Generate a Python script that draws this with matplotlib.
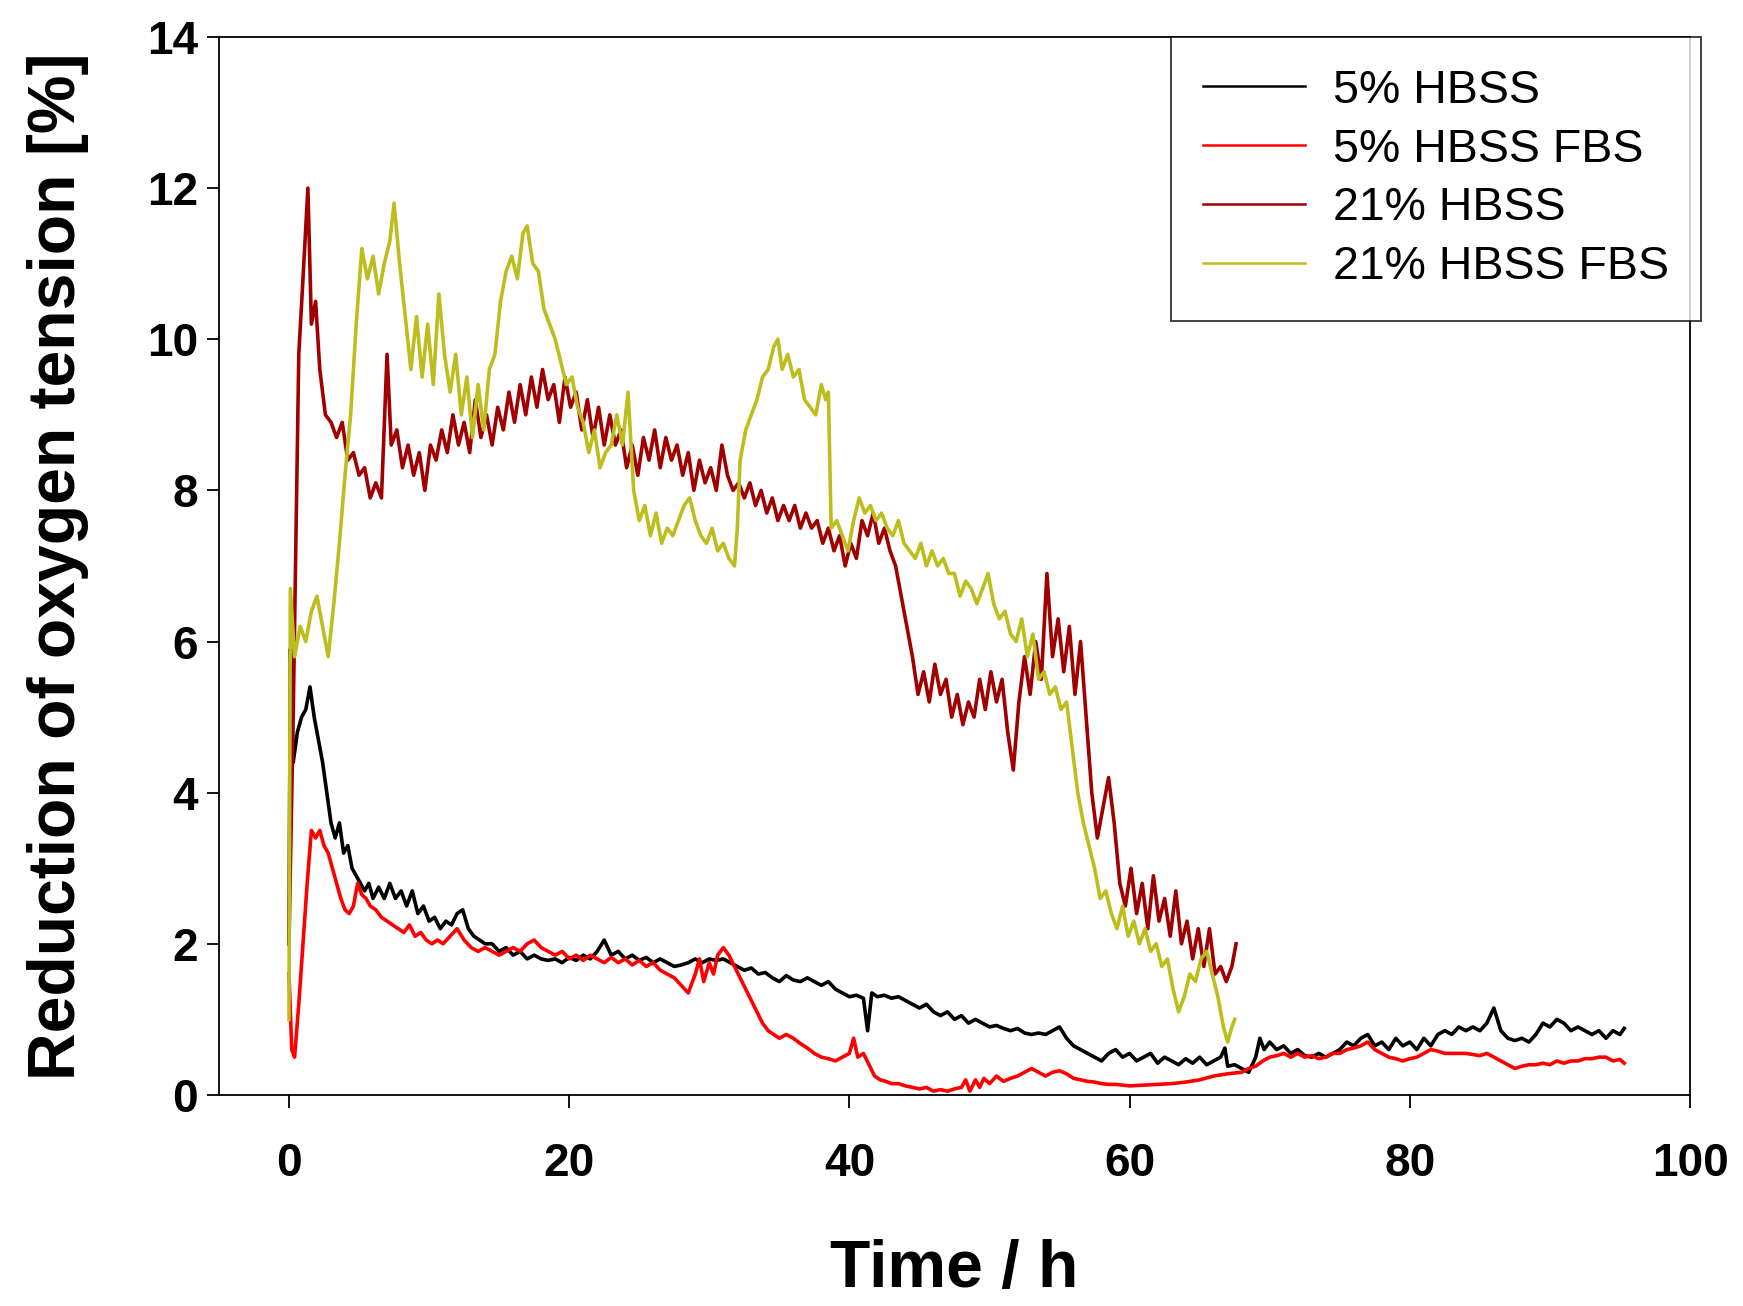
import matplotlib
matplotlib.use("Agg")
import matplotlib.pyplot as plt

# ---- data (time in h, reduction in %) ----
labels = ["5% HBSS", "5% HBSS FBS", "21% HBSS", "21% HBSS FBS"]
colors = ["#000000", "#FF0000", "#A00000", "#BDBD1E"]

t_hbss5 = [0.0, 0.1, 0.3, 0.6, 0.9, 1.2, 1.5, 1.8, 2.1, 2.4, 2.7, 3.0, 3.3, 3.6, 3.9, 4.2, 4.5, 4.8,
           5.1, 5.4, 5.7, 6.0, 6.4, 6.8, 7.2, 7.6, 8.0, 8.4, 8.8, 9.2, 9.6, 10.0, 10.4, 10.8, 11.2,
           11.6, 12.0, 12.4, 12.8, 13.2, 13.6, 14.0, 14.5, 15.0, 15.5, 16.0, 16.5, 17.0, 17.5, 18.0,
           18.5, 19.0, 19.5, 20.0, 20.5, 21.0, 21.5, 22.0, 22.5, 23.0, 23.5, 24.0, 24.5, 25.0, 25.5,
           26.0, 26.5, 27.0, 27.5, 28.0, 28.5, 29.0, 29.5, 30.0, 30.5, 31.0, 31.5, 32.0, 32.5, 33.0,
           33.5, 34.0, 34.5, 35.0, 35.5, 36.0, 36.5, 37.0, 37.5, 38.0, 38.5, 39.0, 39.5, 40.0, 40.5,
           41.0, 41.3, 41.6, 42.0, 42.5, 43.0, 43.5, 44.0, 44.5, 45.0, 45.5, 46.0, 46.5, 47.0, 47.5,
           48.0, 48.5, 49.0, 49.5, 50.0, 50.5, 51.0, 51.5, 52.0, 52.5, 53.0, 53.5, 54.0, 54.5, 55.0,
           55.5, 56.0, 56.5, 57.0, 57.5, 58.0, 58.5, 59.0, 59.5, 60.0, 60.5, 61.0, 61.5, 62.0, 62.5,
           63.0, 63.5, 64.0, 64.5, 65.0, 65.5, 66.0, 66.5, 66.8, 67.0, 67.5, 68.0, 68.5, 69.0, 69.3,
           69.6, 70.0, 70.5, 71.0, 71.5, 72.0, 72.5, 73.0, 73.5, 74.0, 74.5, 75.0, 75.5, 76.0, 76.5,
           77.0, 77.5, 78.0, 78.5, 79.0, 79.5, 80.0, 80.5, 81.0, 81.5, 82.0, 82.5, 83.0, 83.5, 84.0,
           84.5, 85.0, 85.5, 86.0, 86.5, 87.0, 87.5, 88.0, 88.5, 89.0, 89.5, 90.0, 90.5, 91.0, 91.5,
           92.0, 92.5, 93.0, 93.5, 94.0, 94.5, 95.0, 95.3]
v_hbss5 = [2.0, 5.9, 4.4, 4.8, 5.0, 5.1, 5.4, 5.0, 4.7, 4.4, 4.0, 3.6, 3.4, 3.6, 3.2, 3.3, 3.0, 2.9,
           2.8, 2.7, 2.8, 2.6, 2.75, 2.6, 2.8, 2.6, 2.7, 2.5, 2.7, 2.4, 2.5, 2.3, 2.35, 2.2, 2.3,
           2.25, 2.4, 2.45, 2.2, 2.1, 2.05, 2.0, 2.0, 1.9, 1.95, 1.85, 1.9, 1.8, 1.85, 1.8,
           1.78, 1.8, 1.75, 1.82, 1.78, 1.85, 1.8, 1.9, 2.05, 1.85, 1.9, 1.8, 1.85, 1.78, 1.82,
           1.75, 1.8, 1.75, 1.7, 1.72, 1.75, 1.8, 1.75, 1.8, 1.78, 1.8, 1.75, 1.7, 1.65, 1.68,
           1.6, 1.62, 1.55, 1.5, 1.58, 1.52, 1.5, 1.55, 1.5, 1.45, 1.5, 1.4, 1.35, 1.3, 1.32,
           1.28, 0.85, 1.35, 1.3, 1.32, 1.28, 1.3, 1.25, 1.2, 1.15, 1.2, 1.1, 1.05, 1.1, 1.0,
           1.05, 0.95, 1.0, 0.95, 0.9, 0.92, 0.88, 0.85, 0.88, 0.82, 0.8, 0.82, 0.8, 0.85, 0.9,
           0.75, 0.65, 0.6, 0.55, 0.5, 0.45, 0.55, 0.6, 0.5, 0.55, 0.45, 0.5, 0.55, 0.42, 0.5,
           0.45, 0.4, 0.48, 0.42, 0.5, 0.4, 0.45, 0.5, 0.62, 0.38, 0.4, 0.35, 0.3, 0.5, 0.75,
           0.6, 0.7, 0.6, 0.65, 0.55, 0.6, 0.52, 0.5, 0.55, 0.5, 0.55, 0.6, 0.7, 0.65, 0.75,
           0.8, 0.65, 0.7, 0.6, 0.75, 0.65, 0.7, 0.6, 0.75, 0.65, 0.8, 0.85, 0.8, 0.9, 0.85,
           0.9, 0.85, 0.95, 1.15, 0.85, 0.75, 0.72, 0.75, 0.7, 0.8, 0.95, 0.9, 1.0, 0.95, 0.85,
           0.9, 0.85, 0.8, 0.85, 0.75, 0.85, 0.8, 0.88]

t_hbss5_fbs = [0.0, 0.2, 0.4, 0.7, 1.0, 1.3, 1.6, 1.9, 2.2, 2.5, 2.8, 3.1, 3.4, 3.7, 4.0, 4.3, 4.6,
               4.9, 5.2, 5.5, 5.8, 6.2, 6.6, 7.0, 7.4, 7.8, 8.2, 8.6, 9.0, 9.4, 9.8, 10.2, 10.6, 11.0,
               11.5, 12.0, 12.5, 13.0, 13.5, 14.0, 14.5, 15.0, 15.5, 16.0, 16.5, 17.0, 17.5, 18.0,
               18.5, 19.0, 19.5, 20.0, 20.5, 21.0, 21.5, 22.0, 22.5, 23.0, 23.5, 24.0, 24.5, 25.0,
               25.5, 26.0, 26.5, 27.0, 27.5, 28.0, 28.5, 29.0, 29.3, 29.6, 30.0, 30.3, 30.6, 31.0,
               31.4, 31.8, 32.2, 32.6, 33.0, 33.4, 33.8, 34.2, 34.6, 35.0, 35.5, 36.0, 36.5, 37.0,
               37.5, 38.0, 38.5, 39.0, 39.5, 40.0, 40.3, 40.6, 41.0, 41.4, 41.8, 42.2, 42.6, 43.0,
               43.5, 44.0, 44.5, 45.0, 45.5, 46.0, 46.5, 47.0, 47.5, 48.0, 48.3, 48.6, 49.0, 49.3,
               49.6, 50.0, 50.5, 51.0, 51.5, 52.0, 52.5, 53.0, 53.5, 54.0, 54.5, 55.0, 55.5, 56.0,
               56.5, 57.0, 57.5, 58.0, 58.5, 59.0, 60.0, 61.0, 62.0, 63.0, 64.0, 65.0, 66.0, 67.0,
               68.0, 68.5, 69.0, 69.5, 70.0, 70.5, 71.0, 71.5, 72.0, 72.5, 73.0, 73.5, 74.0, 74.5,
               75.0, 75.5, 76.0, 76.5, 77.0, 77.5, 78.0, 78.5, 79.0, 79.5, 80.0, 80.5, 81.0, 81.5,
               82.0, 82.5, 83.0, 84.0, 85.0, 85.5, 86.0, 86.5, 87.0, 87.5, 88.0, 88.5, 89.0, 89.5,
               90.0, 90.5, 91.0, 91.5, 92.0, 92.5, 93.0, 93.5, 94.0, 94.5, 95.0, 95.3]
v_hbss5_fbs = [1.6, 0.6, 0.5, 1.2, 2.0, 2.8, 3.5, 3.4, 3.5, 3.3, 3.2, 3.0, 2.8, 2.6, 2.45, 2.4, 2.5,
               2.8, 2.65, 2.6, 2.5, 2.45, 2.35, 2.3, 2.25, 2.2, 2.15, 2.25, 2.1, 2.15, 2.05, 2.0, 2.05,
               2.0, 2.1, 2.2, 2.05, 1.95, 1.9, 1.95, 1.9, 1.85, 1.9, 1.95, 1.9, 2.0, 2.05, 1.95,
               1.9, 1.85, 1.9, 1.8, 1.85, 1.78, 1.85, 1.8, 1.75, 1.82, 1.75, 1.8, 1.72, 1.78,
               1.7, 1.75, 1.65, 1.6, 1.55, 1.45, 1.35, 1.6, 1.8, 1.5, 1.75, 1.6, 1.85, 1.95,
               1.85, 1.7, 1.55, 1.4, 1.25, 1.1, 0.95, 0.85, 0.8, 0.75, 0.8, 0.75, 0.68, 0.62,
               0.55, 0.5, 0.48, 0.45, 0.5, 0.55, 0.75, 0.5, 0.55, 0.4, 0.25, 0.2, 0.18, 0.15,
               0.15, 0.12, 0.1, 0.08, 0.1, 0.05, 0.07, 0.05, 0.08, 0.1, 0.2, 0.05, 0.2, 0.1,
               0.22, 0.15, 0.25, 0.18, 0.22, 0.25, 0.3, 0.35, 0.3, 0.25, 0.3, 0.32, 0.28, 0.22,
               0.2, 0.18, 0.17, 0.15, 0.14, 0.14, 0.12, 0.13, 0.14, 0.15, 0.17, 0.2, 0.25, 0.28,
               0.3, 0.35, 0.38, 0.45, 0.5, 0.52, 0.55, 0.5, 0.55, 0.5, 0.52, 0.48, 0.5, 0.55,
               0.55, 0.6, 0.62, 0.65, 0.7, 0.6, 0.55, 0.5, 0.48, 0.45, 0.48, 0.5, 0.55, 0.6,
               0.58, 0.55, 0.55, 0.55, 0.52, 0.55, 0.5, 0.45, 0.4, 0.35, 0.38, 0.4, 0.4, 0.42,
               0.4, 0.45, 0.42, 0.45, 0.45, 0.48, 0.48, 0.5, 0.5, 0.45, 0.47, 0.42]

t_hbss21 = [0.0, 0.3, 0.7, 1.0, 1.35, 1.6, 1.9, 2.2, 2.6, 3.0, 3.4, 3.8, 4.2, 4.6, 5.0, 5.4, 5.8, 6.2,
            6.6, 7.0, 7.3, 7.7, 8.1, 8.5, 8.9, 9.3, 9.7, 10.1, 10.5, 10.9, 11.3, 11.7, 12.1, 12.5,
            12.9, 13.3, 13.7, 14.1, 14.5, 14.9, 15.3, 15.7, 16.1, 16.5, 16.9, 17.3, 17.7, 18.1, 18.5,
            18.9, 19.3, 19.7, 20.1, 20.5, 20.9, 21.3, 21.7, 22.1, 22.5, 22.9, 23.3, 23.7, 24.1, 24.5,
            24.9, 25.3, 25.7, 26.1, 26.5, 26.9, 27.3, 27.7, 28.1, 28.5, 28.9, 29.3, 29.7, 30.1, 30.5,
            30.9, 31.3, 31.7, 32.1, 32.5, 32.9, 33.3, 33.7, 34.1, 34.5, 34.9, 35.3, 35.7, 36.1, 36.5,
            36.9, 37.3, 37.7, 38.1, 38.5, 38.9, 39.3, 39.7, 40.1, 40.5, 40.9, 41.3, 41.7, 42.1, 42.5,
            42.9, 43.3, 43.7, 44.1, 44.5, 44.9, 45.3, 45.7, 46.1, 46.5, 46.9, 47.3, 47.7, 48.1, 48.5,
            48.9, 49.3, 49.7, 50.1, 50.5, 50.9, 51.3, 51.7, 52.1, 52.5, 52.9, 53.3, 53.7, 54.1, 54.5,
            54.9, 55.3, 55.7, 56.1, 56.5, 56.9, 57.3, 57.7, 58.1, 58.5, 58.9, 59.3, 59.7, 60.1, 60.5,
            60.9, 61.3, 61.7, 62.1, 62.5, 62.9, 63.3, 63.7, 64.1, 64.5, 64.9, 65.3, 65.7, 66.1, 66.5,
            66.9, 67.3, 67.6]
v_hbss21 = [2.0, 5.0, 9.8, 10.8, 12.0, 10.2, 10.5, 9.6, 9.0, 8.9, 8.7, 8.9, 8.4, 8.5, 8.2, 8.3, 7.9, 8.1,
            7.9, 9.8, 8.6, 8.8, 8.3, 8.6, 8.2, 8.5, 8.0, 8.6, 8.4, 8.8, 8.5, 9.0, 8.6, 8.9,
            8.5, 9.2, 8.7, 9.0, 8.6, 9.1, 8.8, 9.3, 8.9, 9.4, 9.0, 9.5, 9.1, 9.6, 9.2,
            9.4, 8.9, 9.5, 9.1, 9.3, 8.8, 9.2, 8.7, 9.1, 8.6, 9.0, 8.6, 8.8, 8.3, 8.6,
            8.2, 8.7, 8.4, 8.8, 8.3, 8.7, 8.4, 8.6, 8.2, 8.5, 8.0, 8.4, 8.1, 8.3, 8.0,
            8.6, 8.2, 8.0, 8.1, 7.9, 8.1, 7.8, 8.0, 7.7, 7.9, 7.6, 7.8, 7.6, 7.8, 7.5,
            7.7, 7.5, 7.6, 7.3, 7.5, 7.2, 7.4, 7.0, 7.3, 7.1, 7.6, 7.4, 7.7, 7.3, 7.5,
            7.2, 7.0, 6.6, 6.2, 5.8, 5.3, 5.6, 5.2, 5.7, 5.3, 5.5, 5.0, 5.3, 4.9, 5.2,
            5.0, 5.5, 5.1, 5.6, 5.2, 5.5, 4.8, 4.3, 5.2, 5.8, 5.3, 6.0, 5.5, 6.9, 5.8,
            6.3, 5.6, 6.2, 5.3, 6.0, 5.0, 4.0, 3.4, 3.8, 4.2, 3.6, 2.8, 2.5, 3.0, 2.4,
            2.8, 2.2, 2.9, 2.3, 2.6, 2.1, 2.7, 2.0, 2.3, 1.8, 2.2, 1.7, 2.2, 1.6, 1.7,
            1.5, 1.7, 2.0]

t_hbss21_fbs = [0.0, 0.1, 0.4, 0.8, 1.2, 1.6, 2.0, 2.4, 2.8, 3.2, 3.6, 4.0, 4.4, 4.8, 5.2, 5.6, 6.0,
                6.4, 6.8, 7.2, 7.5, 7.9, 8.3, 8.7, 9.1, 9.5, 9.9, 10.3, 10.7, 11.1, 11.5, 11.9, 12.3,
                12.7, 13.1, 13.5, 13.9, 14.3, 14.7, 15.1, 15.5, 15.9, 16.3, 16.7, 17.0, 17.4, 17.8,
                18.2, 18.6, 19.0, 19.4, 19.8, 20.2, 20.6, 21.0, 21.4, 21.8, 22.2, 22.6, 23.0, 23.4,
                23.8, 24.2, 24.6, 25.0, 25.4, 25.8, 26.2, 26.6, 27.0, 27.4, 27.8, 28.2, 28.6, 29.0,
                29.4, 29.8, 30.2, 30.6, 31.0, 31.4, 31.8, 32.0, 32.2, 32.6, 33.0, 33.4, 33.8, 34.2,
                34.6, 34.9, 35.2, 35.6, 36.0, 36.4, 36.8, 37.2, 37.6, 38.0, 38.3, 38.5, 38.7, 39.1,
                39.5, 39.9, 40.3, 40.7, 41.1, 41.5, 41.9, 42.3, 42.7, 43.1, 43.5, 43.9, 44.3, 44.7,
                45.1, 45.5, 45.9, 46.3, 46.7, 47.1, 47.5, 47.9, 48.3, 48.7, 49.1, 49.5, 49.9, 50.3,
                50.7, 51.1, 51.5, 51.9, 52.3, 52.7, 53.1, 53.5, 53.9, 54.3, 54.7, 55.1, 55.5, 55.9,
                56.3, 56.7, 57.1, 57.5, 57.9, 58.3, 58.7, 59.1, 59.5, 59.9, 60.3, 60.7, 61.1, 61.5,
                61.9, 62.3, 62.7, 63.1, 63.5, 63.9, 64.3, 64.7, 65.1, 65.5, 65.9, 66.3, 66.7, 67.0,
                67.3, 67.5]
v_hbss21_fbs = [1.0, 6.7, 5.8, 6.2, 6.0, 6.4, 6.6, 6.2, 5.8, 6.5, 7.3, 8.2, 9.0, 10.2, 11.2, 10.8, 11.1,
                10.6, 11.0, 11.3, 11.8, 11.0, 10.3, 9.6, 10.3, 9.5, 10.2, 9.4, 10.6, 9.8, 9.3, 9.8, 9.0,
                9.5, 8.7, 9.4, 8.8, 9.6, 9.8, 10.5, 10.9, 11.1, 10.8, 11.4, 11.5, 11.0, 10.9,
                10.4, 10.2, 10.0, 9.7, 9.4, 9.5, 9.1, 8.9, 8.5, 8.8, 8.3, 8.5, 8.6, 9.0,
                8.6, 9.3, 8.0, 7.6, 7.8, 7.4, 7.7, 7.3, 7.5, 7.4, 7.6, 7.8, 7.9, 7.6,
                7.4, 7.3, 7.5, 7.2, 7.3, 7.1, 7.0, 7.5, 8.4, 8.8, 9.0, 9.2, 9.5, 9.6,
                9.9, 10.0, 9.6, 9.8, 9.5, 9.6, 9.2, 9.1, 9.0, 9.4, 9.2, 9.3, 7.5, 7.6,
                7.4, 7.2, 7.6, 7.9, 7.7, 7.8, 7.6, 7.7, 7.5, 7.4, 7.6, 7.3, 7.2, 7.1,
                7.3, 7.0, 7.2, 7.0, 7.1, 6.9, 6.9, 6.6, 6.8, 6.7, 6.5, 6.7, 6.9, 6.5,
                6.3, 6.4, 6.1, 6.0, 6.3, 5.8, 6.1, 5.5, 5.6, 5.3, 5.4, 5.1, 5.2, 4.6,
                4.0, 3.6, 3.3, 3.0, 2.6, 2.7, 2.4, 2.2, 2.5, 2.1, 2.3, 2.0, 2.2, 1.9,
                2.0, 1.7, 1.8, 1.4, 1.1, 1.3, 1.6, 1.5, 1.8, 1.9, 1.6, 1.3, 0.9, 0.7,
                0.9, 1.0]

series_t = [t_hbss5, t_hbss5_fbs, t_hbss21, t_hbss21_fbs]
series_v = [v_hbss5, v_hbss5_fbs, v_hbss21, v_hbss21_fbs]

plt.rcParams['font.family'] = ['Liberation Sans', 'DejaVu Sans']

fig = plt.figure(figsize=(17.43, 13.06), dpi=100)
ax = fig.add_axes([0.1256, 0.1616, 0.8440, 0.8101])

for t, v, c, lab in zip(series_t, series_v, colors, labels):
    ax.plot(t, v, color=c, lw=2.6, label=lab)

ax.set_xlim(-5, 100)
ax.set_ylim(0, 14)
ax.set_xticks([0, 20, 40, 60, 80, 100])
ax.set_yticks([0, 2, 4, 6, 8, 10, 12, 14])
ax.tick_params(axis='x', direction='out', length=9, width=1.3, pad=25, labelsize=33)
ax.tick_params(axis='y', direction='out', length=9, width=1.3, pad=6, labelsize=33)
for lab in ax.get_xticklabels() + ax.get_yticklabels():
    lab.set_fontweight('bold')
for s in ax.spines.values():
    s.set_linewidth(1.3)

ax.set_xlabel("Time / h", fontsize=47.5, fontweight='bold', labelpad=38)
ax.set_ylabel("Reduction of oxygen tension [%]", fontsize=47.5, fontweight='bold', labelpad=42)

leg = fig.legend(loc='upper right', bbox_to_anchor=(1701 / 1743, 1 - 37 / 1306),
                 fontsize=33.5, frameon=True, fancybox=False, handlelength=2.2,
                 handletextpad=0.6, labelspacing=0.32, borderpad=0.68, borderaxespad=0)
leg.get_frame().set_edgecolor('black')
leg.get_frame().set_linewidth(1.3)
for h in leg.get_lines():
    h.set_linewidth(1.8)

fig.savefig("out.png", dpi=100)
